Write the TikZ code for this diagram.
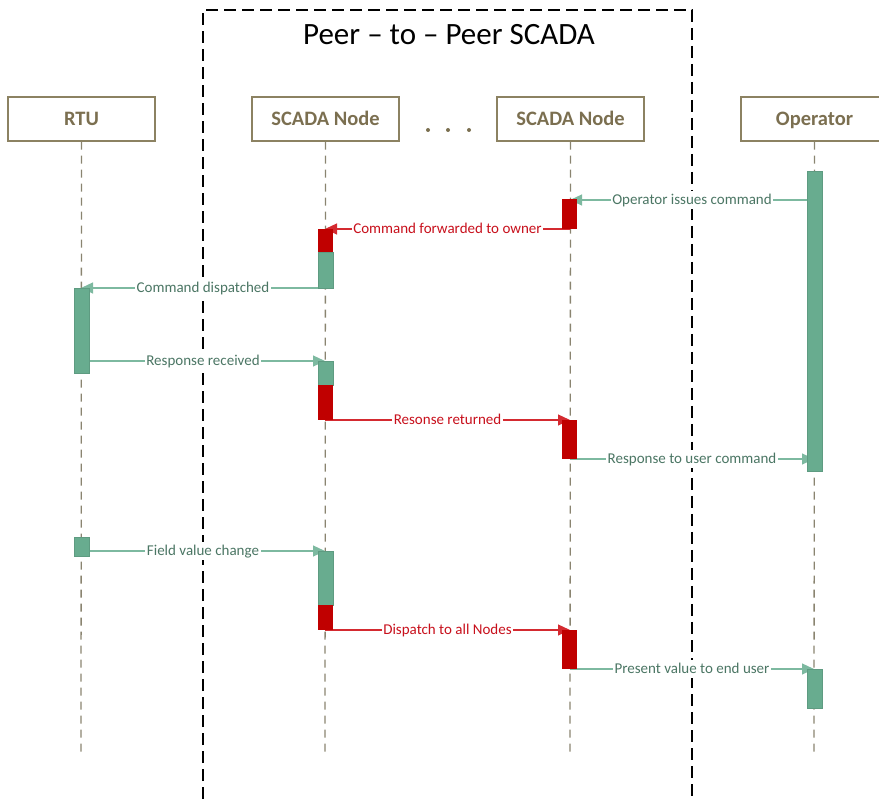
\documentclass[tikz,border=0pt]{standalone}
\usepackage{fontspec}
\setmainfont{Carlito}
\usetikzlibrary{arrows.meta}
\definecolor{boxline}{HTML}{8C8262}
\definecolor{boxtext}{HTML}{7B6F50}
\definecolor{life}{HTML}{8A8470}
\definecolor{actgreen}{HTML}{68AC8F}
\definecolor{msggreen}{HTML}{7DB9A0}
\definecolor{txtgreen}{HTML}{4B7664}
\definecolor{actred}{HTML}{C00000}
\definecolor{msgred}{HTML}{D42A30}
\definecolor{txtred}{HTML}{C8101C}

\begin{document}
\begin{tikzpicture}[x=1pt,y=-1pt,
  actor/.style={draw=boxline, line width=1.2pt, minimum width=147pt, minimum height=44pt,
    inner sep=0pt, text height=17.2pt, text depth=4pt, text=boxtext,
    font=\fontsize{20.5}{24}\selectfont\bfseries},
  lifeline/.style={draw=life, line width=1.3pt, dash pattern=on 8pt off 6pt},
  gbar/.style={fill=actgreen, draw=actgreen!90!black, line width=0.4pt},
  rbar/.style={fill=actred},
  msglabel/.style={midway, fill=white, inner sep=1.5pt, text height=12pt, text depth=3pt,
    font=\fontsize{15}{18}\selectfont},
  gmsg/.style={draw=msggreen, fill=actgreen, line width=1.2pt, -{Triangle[length=12pt,width=11pt]}},
  rmsg/.style={draw=msgred, fill=actred, line width=1.2pt, -{Triangle[length=12pt,width=11pt]}},
  frame/.style={draw=black, line width=1.6pt, dash pattern=on 12pt off 6pt}
]
\useasboundingbox (0,0) rectangle (879,799);

% system boundary and title
\draw[frame] (203,799) -- (203,10) -- (692,10) -- (692,799);
\node[font=\fontsize{31}{37}\selectfont] (title) at (449,35) {Peer – to – Peer SCADA};

% participants
\node[actor] (rtu) at (81.5,119) {RTU};
\node[actor] (nodeA) at (325.5,119) {SCADA Node};
\node[actor] (nodeB) at (570.5,119) {SCADA Node};
\node[actor] (oper) at (814.5,119) {Operator};
\foreach \px/\nm in {428/d1,448/d2,469/d3}
  \node[circle, fill=boxtext, inner sep=0pt, minimum size=4pt] (\nm) at (\px,130) {};

% lifelines
\foreach \p/\x in {rtu/81,nodeA/325,nodeB/570,oper/814}{
  \coordinate (\p-end) at (\x,757);
  \draw[lifeline] (\p.south) -- (\p-end);
}

% message anchors on the lifelines
\foreach \p/\x in {rtu/81,nodeA/325,nodeB/570,oper/814}
  \foreach \y in {200,229,288,361,420,459,551,630,669}
    \coordinate (\p-\y) at (\x,\y);

% messages
\draw[gmsg] (oper-200) -- (nodeB-200) node[msglabel, text=txtgreen] {Operator issues command};
\draw[rmsg] (nodeB-229) -- (nodeA-229) node[msglabel, text=txtred] {Command forwarded to owner};
\draw[gmsg] (nodeA-288) -- (rtu-288) node[msglabel, text=txtgreen] {Command dispatched};
\draw[gmsg] (rtu-361) -- (nodeA-361) node[msglabel, text=txtgreen] {Response received};
\draw[rmsg] (nodeA-420) -- (nodeB-420) node[msglabel, text=txtred] {Resonse returned};
\draw[gmsg] (nodeB-459) -- (oper-459) node[msglabel, text=txtgreen] {Response to user command};
\draw[gmsg] (rtu-551) -- (nodeA-551) node[msglabel, text=txtgreen] {Field value change};
\draw[rmsg] (nodeA-630) -- (nodeB-630) node[msglabel, text=txtred] {Dispatch to all Nodes};
\draw[gmsg] (nodeB-669) -- (oper-669) node[msglabel, text=txtgreen] {Present value to end user};

% activation bars
\path[gbar] (807,171) rectangle (822,471);
\path[rbar] (562,199) rectangle (577,229);
\path[rbar] (318,229) rectangle (333,252);
\path[gbar] (318,252) rectangle (333,288);
\path[gbar] (74,288) rectangle (89,373);
\path[gbar] (318,361) rectangle (333,385);
\path[rbar] (318,385) rectangle (333,420);
\path[rbar] (562,420) rectangle (577,459);
\path[gbar] (74,537) rectangle (89,556);
\path[gbar] (318,551) rectangle (333,605);
\path[rbar] (318,605) rectangle (333,630);
\path[rbar] (562,630) rectangle (577,669);
\path[gbar] (807,669) rectangle (822,708);
\end{tikzpicture}
\end{document}
